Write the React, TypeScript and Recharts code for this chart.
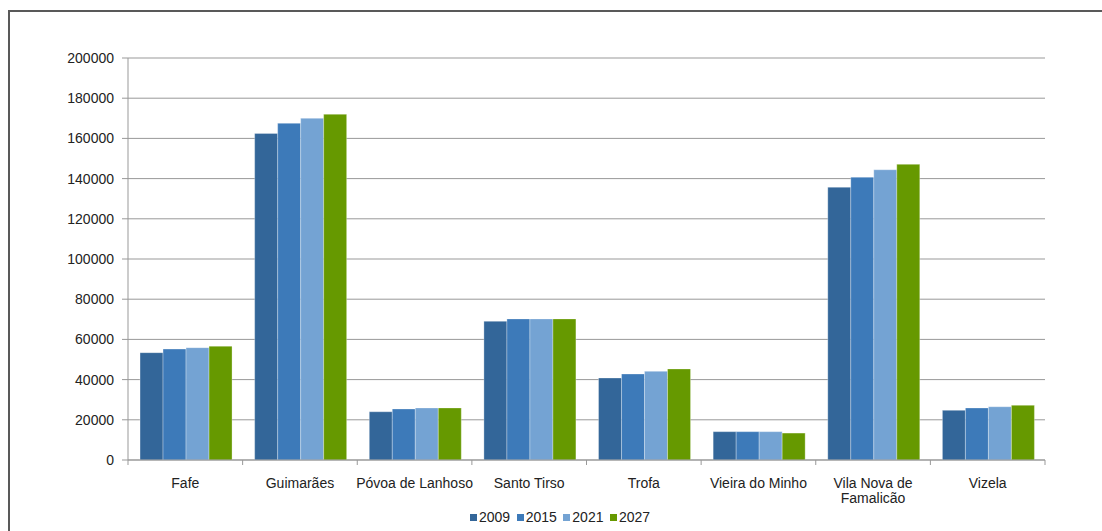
import React from "react";
import { BarChart, Bar, XAxis, YAxis, CartesianGrid } from "recharts";

const categories = [
  "Fafe",
  "Guimarães",
  "Póvoa de Lanhoso",
  "Santo Tirso",
  "Trofa",
  "Vieira do Minho",
  "Vila Nova de Famalicão",
  "Vizela",
];

const series2009 = [53400, 162500, 24000, 69000, 40800, 14100, 135700, 24700];
const series2015 = [55200, 167500, 25400, 70200, 42800, 14100, 140700, 25900];
const series2021 = [55900, 170000, 25900, 70200, 44100, 14100, 144400, 26500];
const series2027 = [56600, 172000, 25900, 70200, 45300, 13400, 147100, 27200];

const yTicks = [0, 20000, 40000, 60000, 80000, 100000, 120000, 140000, 160000, 180000, 200000];

const seriesDefs = [
  { key: "y2009", name: "2009", color: "#336699", values: series2009 },
  { key: "y2015", name: "2015", color: "#3d7ab9", values: series2015 },
  { key: "y2021", name: "2021", color: "#74a3d3", values: series2021 },
  { key: "y2027", name: "2027", color: "#669900", values: series2027 },
];

const data = categories.map((name, i) => {
  const row: Record<string, any> = { name };
  seriesDefs.forEach((s) => {
    row[s.key] = s.values[i];
  });
  return row;
});

const FONT = "'Liberation Sans', Arial, sans-serif";
const CHART_W = 1092;
const CHART_H = 519;
const MARGIN = { top: 46, right: 57, left: 0, bottom: 21 };
const Y_W = 118;
const PLOT_W = CHART_W - MARGIN.left - MARGIN.right - Y_W;

function wrapLabel(label: string): string[] {
  if (label.length <= 18) return [label];
  const words = label.split(" ");
  const lines: string[] = [];
  let cur = "";
  words.forEach((w) => {
    const next = cur ? cur + " " + w : w;
    if (next.length > 12 && cur) {
      lines.push(cur);
      cur = w;
    } else {
      cur = next;
    }
  });
  if (cur) lines.push(cur);
  return lines;
}

const XTick = (props: any) => {
  const { x, y, payload, index } = props;
  const half = payload && payload.offset ? payload.offset : PLOT_W / categories.length / 2;
  const lines = wrapLabel(String(payload.value));
  const last = index === categories.length - 1;
  return (
    <g>
      <line x1={x - half} x2={x - half} y1={y} y2={y + 5} stroke="#999" strokeWidth={1} />
      {last && <line x1={x + half} x2={x + half} y1={y} y2={y + 5} stroke="#999" strokeWidth={1} />}
      <text x={x} y={y + 28} textAnchor="middle" fontFamily={FONT} fontSize={14} fill="#222">
        {lines.map((l, i) => (
          <tspan key={i} x={x} dy={i === 0 ? 0 : 15}>
            {l}
          </tspan>
        ))}
      </text>
    </g>
  );
};

export default function App() {
  return (
    <div
      style={{
        position: "fixed",
        left: 8,
        top: 10,
        width: 1094,
        height: 521,
        borderTop: "2px solid #595959",
        borderLeft: "2px solid #595959",
        boxSizing: "border-box",
        background: "#fff",
        overflow: "hidden",
      }}
    >
      <BarChart
        width={CHART_W}
        height={CHART_H}
        data={data}
        margin={MARGIN}
        barCategoryGap="10.5%"
        barGap={0}
      >
        <CartesianGrid vertical={false} stroke="#999" strokeWidth={1} />
        <XAxis
          dataKey="name"
          axisLine={{ stroke: "#999" }}
          tickLine={false}
          tickSize={0}
          tickMargin={0}
          interval={0}
          height={50}
          tick={<XTick />}
        />
        <YAxis
          width={Y_W}
          domain={[0, 200000]}
          ticks={yTicks}
          interval={0}
          axisLine={{ stroke: "#999" }}
          tickLine={{ stroke: "#999" }}
          tickSize={6}
          tickMargin={8}
          tick={{ fontFamily: FONT, fontSize: 14, fill: "#222" }}
        />
        {seriesDefs.map((s) => (
          <Bar
            key={s.key}
            dataKey={s.key}
            name={s.name}
            fill={s.color}
            stroke="rgba(255,255,255,0.3)"
            strokeWidth={1}
            isAnimationActive={false}
          />
        ))}
      </BarChart>
      <div
        style={{
          position: "absolute",
          left: 460,
          top: 497,
          display: "flex",
          alignItems: "center",
          fontFamily: FONT,
          fontSize: 14,
          color: "#222",
          lineHeight: "16px",
        }}
      >
        {seriesDefs.map((s) => (
          <div key={s.key} style={{ display: "flex", alignItems: "center", marginRight: 6.5 }}>
            <span
              style={{
                display: "inline-block",
                width: 7,
                height: 7,
                background: s.color,
                marginRight: 2,
              }}
            />
            <span>{s.name}</span>
          </div>
        ))}
      </div>
    </div>
  );
}
